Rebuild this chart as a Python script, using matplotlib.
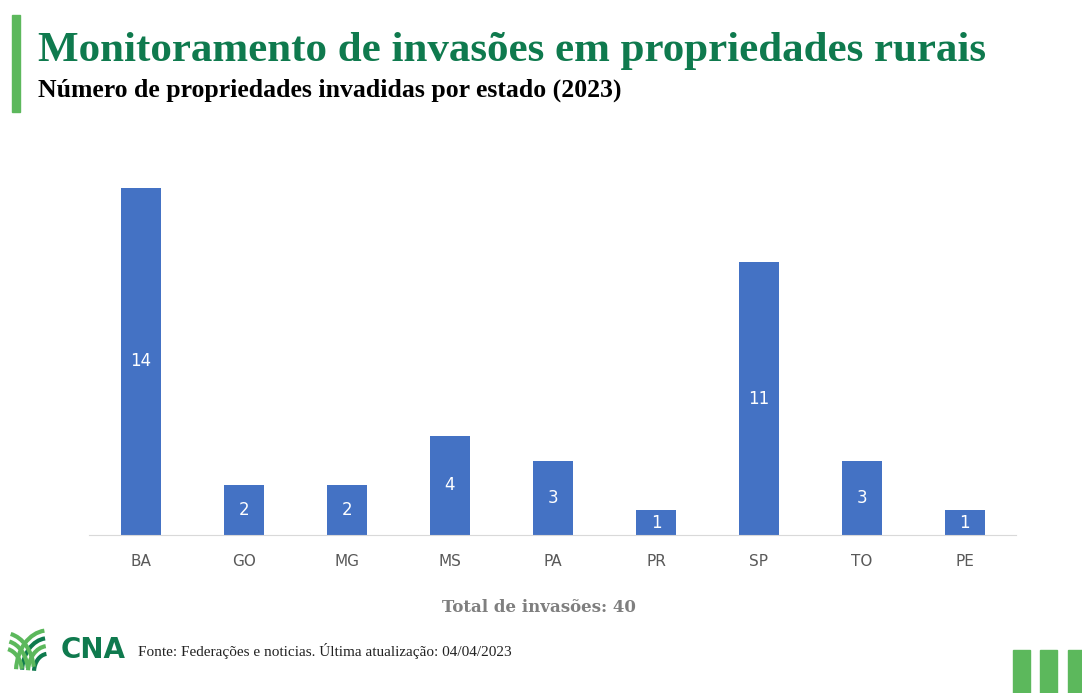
import numpy as np
import matplotlib.pyplot as plt
from matplotlib.patches import Rectangle, Arc

# Data
estados = ["BA", "GO", "MG", "MS", "PA", "PR", "SP", "TO", "PE"]
invasoes = [14, 2, 2, 4, 3, 1, 11, 3, 1]
total_informado = 40  # value printed on the original chart

azul = "#4472C4"
verde = "#5CB85C"
verde_escuro = "#0F7A4E"
cinza = "#595959"

fig = plt.figure(figsize=(10.82, 6.93), dpi=100)
ax = fig.add_axes([0.0827, 0.228, 0.8567, 0.5368])

x = np.arange(len(estados))
bars = ax.bar(x, invasoes, width=0.39, color=azul)
for b, v in zip(bars, invasoes):
    ax.text(b.get_x() + b.get_width() / 2, v / 2, str(v), ha="center", va="center",
            color="white", fontsize=12)

ax.set_xlim(-0.5, len(estados) - 0.5)
ax.set_ylim(0, 15)
ax.set_xticks(x)
ax.set_xticklabels(estados, color=cinza, fontsize=11)
ax.tick_params(axis="x", length=0, pad=14)
ax.set_yticks([])
for s in ["top", "right", "left"]:
    ax.spines[s].set_visible(False)
ax.spines["bottom"].set_color("#D9D9D9")

# Title block
fig.patches.append(Rectangle((12 / 1082, 1 - 112 / 693), 8 / 1082, 97 / 693,
                             transform=fig.transFigure, color=verde))
fig.text(38 / 1082, 1 - 61 / 693, "Monitoramento de invasões em propriedades rurais",
         family="Liberation Serif", fontweight="bold", fontsize=31, color=verde_escuro)
fig.text(38 / 1082, 1 - 97 / 693, "Número de propriedades invadidas por estado (2023)",
         family="Liberation Serif", fontweight="bold", fontsize=18.5, color="black")

fig.text(539 / 1082, 1 - 607 / 693, f"Total de invasões: {total_informado}", ha="center",
         va="center", family="DejaVu Serif", fontweight="bold", fontsize=12, color="#7F7F7F")

# Footer
fig.text(138 / 1082, 1 - 651 / 693, "Fonte: Federações e noticias. Última atualização: 04/04/2023",
         family="Liberation Serif", fontsize=11, va="center", color="#222222")
fig.text(61 / 1082, 1 - 650 / 693, "CNA", family="DejaVu Sans", fontweight="bold",
         fontsize=20, va="center", color=verde_escuro)

# simple logo arcs
logo = fig.add_axes([0 / 1082, 1 - 672 / 693, 55 / 1082, 46 / 693])
logo.set_xlim(0, 55)
logo.set_ylim(0, 46)
logo.axis("off")
for i, r in enumerate([14, 20, 26, 32]):
    logo.add_patch(Arc((48, 0), 2 * r, 2 * r * 1.3, theta1=95, theta2=175,
                       color=verde_escuro if i % 2 == 0 else verde, lw=3))
for i, r in enumerate([18, 24, 30]):
    logo.add_patch(Arc((4, 0), 2 * r, 2 * r * 1.3, theta1=10, theta2=80,
                       color=verde, lw=3))

for x0 in [1013, 1040, 1068]:
    fig.patches.append(Rectangle((x0 / 1082, 0), 17 / 1082, 43 / 693,
                                 transform=fig.transFigure, color=verde))

fig.savefig("out.png", dpi=100)
